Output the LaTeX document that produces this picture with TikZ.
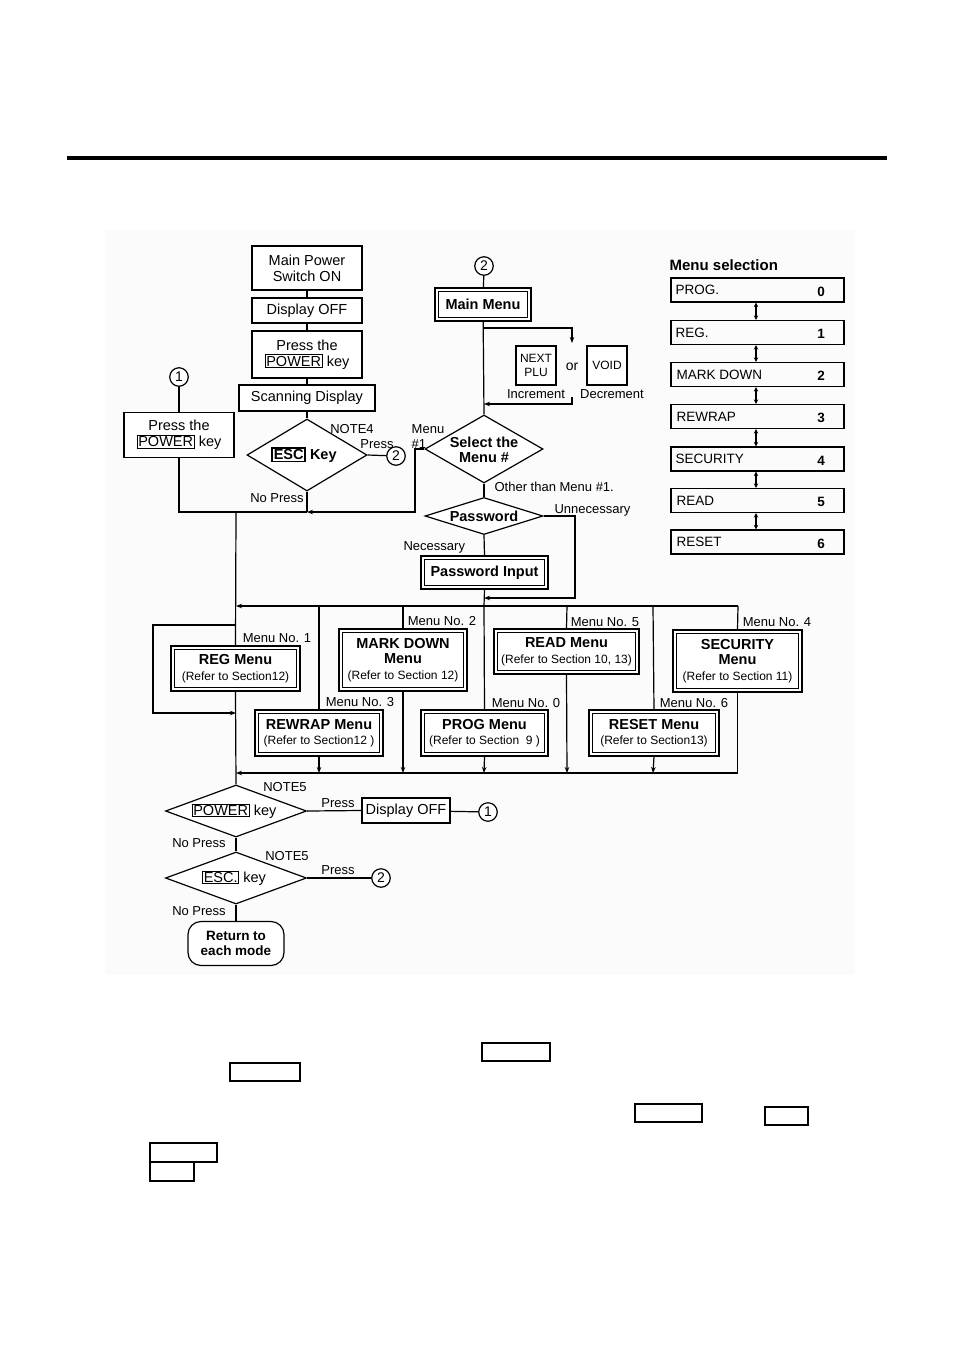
\documentclass[tikz,border=0pt]{standalone}
\usepackage{fontspec}
\setmainfont{Liberation Sans}
\usetikzlibrary{shapes.geometric,arrows.meta}
\newcommand{\kbox}[1]{{\fboxsep=0.8pt\fboxrule=0.9pt\fbox{#1}}}
\newcommand{\kboxb}[1]{{\fboxsep=0.8pt\fboxrule=1.6pt\fbox{#1}}}
\newcommand{\refertxt}[1]{{\fontsize{12}{13}\selectfont\mdseries #1}}
\begin{document}
\begin{tikzpicture}[x=1pt,y=-1pt,line width=1.2pt,
  every node/.style={inner sep=0pt, font=\fontsize{13}{14}\selectfont},
  box/.style={draw, fill=white, align=center, font=\fontsize{14.5}{16}\selectfont},
  dbox/.style={draw, fill=white, line width=2pt, align=center,
    font=\fontsize{14.5}{15.5}\selectfont\bfseries,
    path picture={\draw[line width=0.7pt]
      ([shift={(3.2pt,3.2pt)}]path picture bounding box.south west) rectangle
      ([shift={(-3.2pt,-3.2pt)}]path picture bounding box.north east);}},
  dia/.style={draw, diamond, fill=white, inner sep=0pt},
  dtext/.style={font=\fontsize{14.5}{15.5}\selectfont\bfseries, align=center},
  circ/.style={draw, circle, fill=white, minimum size=18.5pt, font=\fontsize{14}{14}\selectfont},
  lab/.style={font=\fontsize{13}{14}\selectfont},
  keybox/.style={draw, line width=2.4pt, fill=white, align=center, minimum width=40pt, minimum height=39pt, font=\fontsize{12}{13.5}\selectfont},
  arr/.style={-{Stealth[length=6pt,width=4.5pt]}},
  msbox/.style={draw, minimum width=173pt, minimum height=24pt},
  mstext/.style={anchor=west, font=\fontsize{13.5}{14}\selectfont},
  msnum/.style={font=\fontsize{13.5}{14}\selectfont\bfseries},
  darr/.style={{Stealth[length=4.5pt,width=4.5pt]}-{Stealth[length=4.5pt,width=4.5pt]}}
]
\useasboundingbox (0,0) rectangle (954,1350);
\fill[black!1.5] (105,230) rectangle (855,975);
\draw[line width=3.3pt] (67,158) -- (887,158);

% ---------- left column ----------
\node[box, minimum width=110pt, minimum height=44pt] (mps) at (307,268) {Main Power\\Switch ON};
\node[box, minimum width=110pt, minimum height=25pt] (doff) at (307,310.5) {Display OFF};
\node[box, minimum width=110pt, minimum height=47pt] (ptp) at (307,354.5) {Press the\\\kbox{POWER} key};
\node[box, minimum width=136pt, minimum height=26pt] (scan) at (307,398) {Scanning Display};
\node[dia, minimum width=120pt, minimum height=72pt] (esc) at (307,455) {};
\node[dtext] (esct) at (304,455) {\kboxb{ESC} Key};
\node[circ] (c2a) at (396,456) {2};
\node[lab] (note4) at (352,429) {NOTE4};
\node[lab] (press4) at (377,444) {Press};
\node[lab] (np4) at (277,498) {No Press};

\node[circ] (c1a) at (179,377) {1};
\node[box, minimum width=110pt, minimum height=45pt] (lpk) at (179,435) {Press the\\\kbox{POWER} key};

\draw (mps) -- (doff);
\draw (doff) -- (ptp);
\draw (ptp) -- (scan);
\draw (scan) -- (esc.north);
\draw (esc.east) -- (c2a);
\draw (c1a) -- (lpk);
\coordinate (j1) at (307,512);
\coordinate (k1) at (415,512);
\coordinate (t1) at (236,512);
\draw (esc.south) -- (j1);
\draw (lpk.south) |- (j1);

% ---------- main menu column ----------
\node[circ] (c2b) at (484,266) {2};
\node[dbox, minimum width=96pt, minimum height=33pt] (mm) at (483,304.5) {Main Menu};
\node[keybox] (nplu) at (536,365.5) {NEXT\\PLU};
\node[lab, font=\fontsize{14}{14}\selectfont] (or) at (572,367) {or};
\node[keybox] (void) at (607,365.5) {VOID};
\node[lab] (inc) at (536,394) {Increment};
\node[lab] (dec) at (612,394) {Decrement};
\node[dia, minimum width=118pt, minimum height=68pt] (sel) at (484,449) {};
\node[dtext] (selt) at (484,450) {Select the\\Menu \#};
\node[lab] (mlab) at (428,429) {Menu};
\node[lab, anchor=west] (h1lab) at (411,444) {\#1};
\node[lab, anchor=west] (other) at (494,487) {Other than Menu \#1.};
\node[dia, minimum width=118pt, minimum height=37pt] (pw) at (484,516) {};
\node[dtext] (pwt) at (484,516.5) {Password};
\node[lab, anchor=west] (unn) at (554,510) {Unnecessary};
\node[lab, anchor=west] (nec) at (403,547) {Necessary};
\node[dbox, minimum width=127pt, minimum height=33pt] (pin) at (484.5,572.5) {Password Input};

\draw (c2b) -- (mm);
\draw (mm) -- (sel.north);
\coordinate (b1) at (484,328);
\coordinate (b2) at (572,328);
\coordinate (b3) at (572,343);
\coordinate (b4) at (572,397);
\coordinate (b5) at (572,404);
\coordinate (b6) at (484,404);
\draw[arr] (b1) -- (b2) -- (b3);
\draw[arr] (b4) -- (b5) -- (b6);
\draw[arr] (sel.west) -| (k1) -- (j1);
\draw (sel.south) -- (pw.north);
\draw (pw.south) -- (pin.north);
\coordinate (u1) at (575,598);
\coordinate (u2) at (484,598);
\draw[arr] (pw.east) -| (u1) -- (u2);

% ---------- menus ----------
\node[dbox, minimum width=129pt, minimum height=45pt] (reg) at (235.5,668.5) {REG Menu\\\refertxt{(Refer to Section12)}};
\node[dbox, minimum width=128pt, minimum height=62pt] (mkd) at (403,660) {MARK DOWN\\Menu\\\refertxt{(Refer to Section 12)}};
\node[dbox, minimum width=128pt, minimum height=46pt] (rwr) at (319,733) {REWRAP Menu\\\refertxt{(Refer to Section12 )}};
\node[dbox, minimum width=127pt, minimum height=46pt] (prog) at (484.5,733) {PROG Menu\\\refertxt{(Refer to Section\ \ 9 )}};
\node[dbox, minimum width=145pt, minimum height=45pt] (read) at (566.5,651.5) {READ Menu\\\refertxt{(Refer to Section 10, 13)}};
\node[dbox, minimum width=130pt, minimum height=46pt] (rst) at (654,733) {RESET Menu\\\refertxt{(Refer to Section13)}};
\node[dbox, minimum width=129pt, minimum height=62pt] (sec) at (737.5,661) {SECURITY\\Menu\\\refertxt{(Refer to Section 11)}};

\node[lab] (mn1) at (277,638) {Menu No. 1};
\node[lab] (mn2) at (442,621) {Menu No. 2};
\node[lab] (mn3) at (360,702) {Menu No. 3};
\node[lab] (mn0) at (526,703) {Menu No. 0};
\node[lab] (mn5) at (605,622) {Menu No. 5};
\node[lab] (mn6) at (694,703) {Menu No. 6};
\node[lab] (mn4) at (777,622) {Menu No. 4};

\coordinate (t2) at (236,606);
\coordinate (t3) at (236,773);
\coordinate (d1) at (319,606);
\coordinate (d2) at (403,606);
\coordinate (d3) at (484,606);
\coordinate (d4) at (567,606);
\coordinate (d5) at (653,606);
\coordinate (d6) at (738,606);
\coordinate (e1) at (319,773);
\coordinate (e2) at (403,773);
\coordinate (e3) at (484,773);
\coordinate (e4) at (567,773);
\coordinate (e5) at (653,773);

\draw (t1) -- (reg.north);
\draw (pin.south) -- (d3);
\draw[arr] (d6) -- (t2);
\draw (d1) -- (rwr.north);
\draw (d2) -- (mkd.north);
\draw (d3) -- (prog.north);
\draw (d4) -- (read.north);
\draw (d5) -- (rst.north);
\draw (d6) -- (sec.north);
\draw[arr] (rwr.south) -- (e1);
\draw[arr] (mkd.south) -- (e2);
\draw[arr] (prog.south) -- (e3);
\draw[arr] (read.south) -- (e4);
\draw[arr] (rst.south) -- (e5);
\draw[arr] (sec.south) |- (t3);
\coordinate (l1) at (236,625);
\coordinate (l2) at (153,625);
\coordinate (l3) at (153,713);
\coordinate (l4) at (236,713);
\draw[arr] (l1) -- (l2) -- (l3) -- (l4);

% ---------- bottom ----------
\node[dia, minimum width=141pt, minimum height=52pt] (pd2) at (236,811) {};
\node[font=\fontsize{14.5}{15}\selectfont] (pd2t) at (234,811) {\kbox{POWER} key};
\node[lab] (note5a) at (285,787) {NOTE5};
\node[lab] (press5a) at (338,803) {Press};
\node[box, minimum width=88pt, minimum height=25pt] (doff2) at (406,810.5) {Display OFF};
\node[circ] (c1b) at (488,812) {1};
\node[lab] (np5a) at (199,843) {No Press};
\node[dia, minimum width=141pt, minimum height=52pt] (esc2) at (236,878) {};
\node[font=\fontsize{14.5}{15}\selectfont] (esc2t) at (234,878) {\kbox{ESC.} key};
\node[lab] (note5b) at (287,856) {NOTE5};
\node[lab] (press5b) at (338,870) {Press};
\node[circ] (c2c) at (381,878) {2};
\node[lab] (np5b) at (199,911) {No Press};
\node[box, rounded corners=13pt, minimum width=96pt, minimum height=44pt, font=\fontsize{13.5}{15.5}\selectfont\bfseries] (ret) at (236,943.5) {Return to\\each mode};

\draw (reg.south) -- (pd2.north);
\draw (pd2.east) -- (doff2.west);
\draw (doff2) -- (c1b);
\draw (pd2.south) -- (esc2.north);
\draw (esc2.east) -- (c2c);
\draw (esc2.south) -- (ret.north);

% ---------- menu selection ----------
\node[anchor=west, font=\fontsize{15}{16}\selectfont\bfseries] (mstitle) at (669,265) {Menu selection};
\node[msbox] (ms0) at (757.5,290) {};
\node[msbox] (ms1) at (757.5,332.5) {};
\node[msbox] (ms2) at (757.5,374.5) {};
\node[msbox] (ms3) at (757.5,416.5) {};
\node[msbox] (ms4) at (757.5,459) {};
\node[msbox] (ms5) at (757.5,500.5) {};
\node[msbox] (ms6) at (757.5,542) {};
\node[mstext] (mst0) at (675,290) {PROG.};
\node[mstext] (mst1) at (675,332.5) {REG.};
\node[mstext] (mst2) at (676,374.5) {MARK DOWN};
\node[mstext] (mst3) at (676,416.5) {REWRAP};
\node[mstext] (mst4) at (675,459) {SECURITY};
\node[mstext] (mst5) at (676,500.5) {READ};
\node[mstext] (mst6) at (676,542) {RESET};
\node[msnum] (msn0) at (821,292) {0};
\node[msnum] (msn1) at (821,334) {1};
\node[msnum] (msn2) at (821,376) {2};
\node[msnum] (msn3) at (821,418) {3};
\node[msnum] (msn4) at (821,460.5) {4};
\node[msnum] (msn5) at (821,502) {5};
\node[msnum] (msn6) at (821,543.5) {6};
\foreach \a/\b in {ms0/ms1,ms1/ms2,ms2/ms3,ms3/ms4,ms4/ms5,ms5/ms6}
  \draw[darr, line width=1.2pt] ([xshift=-1.5pt]\a.south) -- ([xshift=-1.5pt]\b.north);

% ---------- empty boxes below ----------
\draw[line width=1.1pt] (482,1043) rectangle (550,1061);
\draw[line width=1.1pt] (230,1063) rectangle (300,1081);
\draw[line width=1.1pt] (635,1104) rectangle (702,1122);
\draw[line width=1.1pt] (765,1107) rectangle (808,1125);
\draw[line width=1.1pt] (150,1143) rectangle (217,1162);
\draw[line width=1.1pt] (150,1162) rectangle (194,1181);
\end{tikzpicture}
\end{document}
